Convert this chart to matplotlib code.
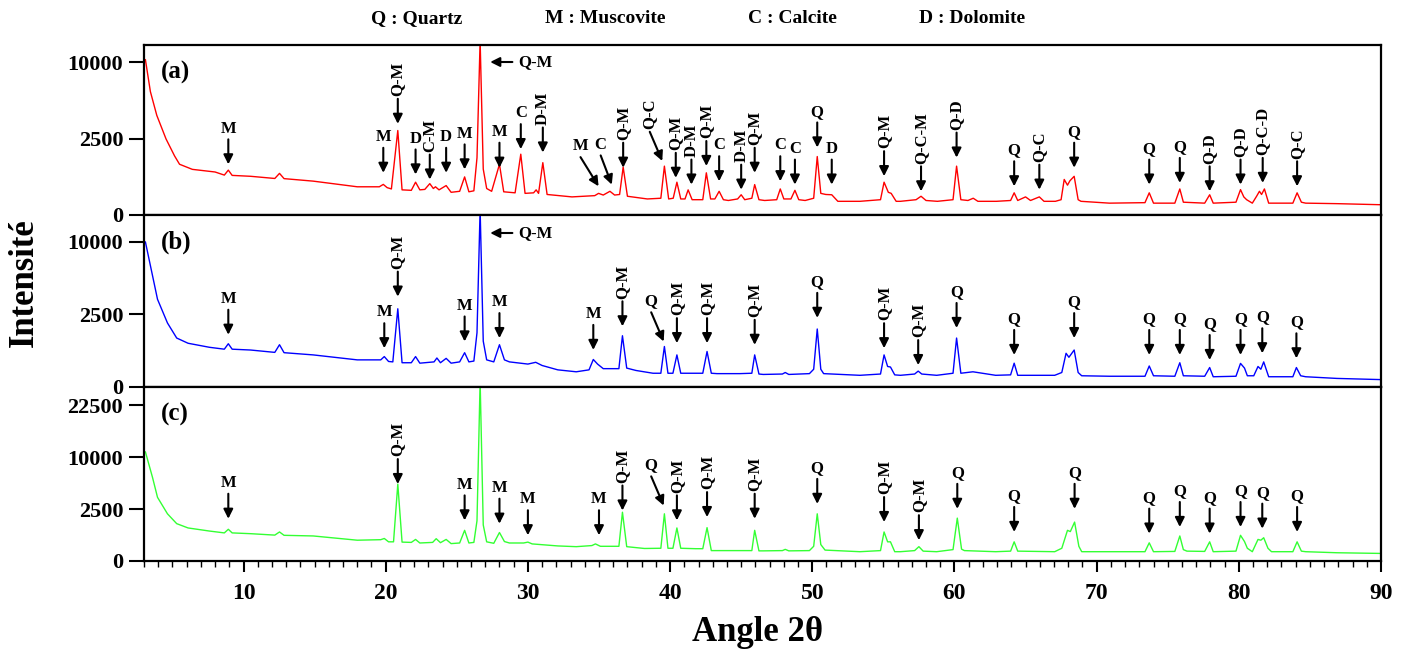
import numpy as np
import matplotlib
matplotlib.use('Agg')
import matplotlib.pyplot as plt
from matplotlib.ticker import MultipleLocator, NullLocator

plt.rcParams['font.family'] = ['Liberation Serif', 'DejaVu Serif']
plt.rcParams['font.weight'] = 'bold'

# ---- diffractogram (a) ----
a_x = [3.1, 3.45, 3.9, 4.55, 5.15, 5.5, 6.4, 8.0, 8.65, 8.93, 9.2, 10.5, 12.2, 12.53, 12.85, 14.9, 18.0,
       19.55, 19.83, 20.1, 20.4, 20.85, 21.15, 21.8, 22.1, 22.4, 22.75, 23.1, 23.35, 23.5, 23.75, 24.25,
       24.6, 25.2, 25.55, 25.85, 26.2, 26.42, 26.64, 26.86, 27.1, 27.45, 28.0, 28.3, 29.1, 29.5, 29.8,
       30.4, 30.58, 30.75, 31.05, 31.35, 33.1, 34.7, 34.97, 35.3, 35.77, 36.1, 36.45, 36.7, 37.0, 38.4,
       39.35, 39.6, 39.9, 40.22, 40.48, 40.75, 41.05, 41.27, 41.55, 42.3, 42.55, 42.85, 43.15, 43.45,
       43.75, 44.1, 44.75, 45.0, 45.25, 45.75, 45.95, 46.25, 46.65, 47.5, 47.75, 48.0, 48.5, 48.78, 49.05,
       49.5, 50.1, 50.35, 50.6, 50.95, 51.37, 51.8, 53.35, 54.8, 55.05, 55.35, 55.55, 55.9, 56.2, 57.3,
       57.65, 58.0, 58.8, 59.9, 60.15, 60.45, 60.95, 61.32, 61.65, 62.95, 63.95, 64.2, 64.45, 65.0, 65.35,
       65.97, 66.3, 67.1, 67.5, 67.72, 67.95, 68.12, 68.42, 68.7, 68.9, 70.9, 73.4, 73.7, 74.0, 75.5,
       75.85, 76.1, 77.6, 77.95, 78.2, 79.8, 80.12, 80.35, 80.55, 80.95, 81.25, 81.45, 81.6, 81.8, 82.1,
       83.8, 84.1, 84.4, 84.7, 86.9, 90.0]
a_y = [10300, 6500, 4240, 2470, 1490, 1100, 890, 790, 680, 860, 670, 640, 570, 740, 565, 490, 340,
       340, 400, 320, 290, 3050, 270, 260, 460, 270, 280, 420, 300, 340, 270, 370,
       220, 240, 620, 230, 250, 1400, 13000, 900, 300, 240, 1100, 230, 210, 1580, 200,
       210, 270, 200, 1170, 180, 140, 160, 200, 170, 240, 170, 180, 980, 150, 110,
       120, 1020, 110, 120, 460, 110, 110, 270, 100, 100, 760, 110, 110, 240,
       100, 90, 110, 175, 100, 120, 395, 100, 90, 100, 290, 110, 110, 260, 100,
       90, 120, 1460, 200, 180, 175, 80, 80, 100, 460, 220, 200, 80, 80, 100,
       150, 90, 80, 100, 1020, 100, 90, 120, 80, 80, 90, 210, 90, 140, 90,
       140, 80, 80, 100, 540, 380, 500, 640, 100, 80, 60, 65, 210, 60, 60,
       290, 70, 60, 175, 60, 70, 275, 140, 100, 60, 150, 240, 180, 290, 60,
       60, 210, 70, 60, 55, 45]

# ---- diffractogram (b) ----
b_x = [3.1, 3.6, 3.95, 4.65, 5.3, 6.1, 7.6, 8.65, 8.93, 9.2, 10.5, 12.2, 12.53, 12.85, 14.9, 18.0,
       19.65, 19.9, 20.2, 20.5, 20.85, 21.15, 21.8, 22.1, 22.4, 23.4, 23.6, 23.85, 24.25, 24.6, 25.2,
       25.55, 25.85, 26.2, 26.42, 26.64, 26.86, 27.1, 27.6, 28.0, 28.35, 28.7, 30.0, 30.55, 31.0, 32.1,
       33.4, 34.3, 34.6, 34.9, 35.3, 36.4, 36.65, 36.95, 37.6, 38.8, 39.35, 39.6, 39.85, 40.2, 40.48,
       40.75, 41.8, 42.3, 42.6, 42.9, 43.3, 44.9, 45.75, 45.95, 46.25, 46.55, 47.9, 48.1, 48.35, 49.8,
       50.1, 50.35, 50.6, 50.8, 53.35, 54.8, 55.05, 55.3, 55.5, 55.8, 56.2, 57.2, 57.45, 57.7, 58.75,
       59.9, 60.15, 60.45, 61.3, 62.9, 63.95, 64.2, 64.45, 67.05, 67.55, 67.85, 68.05, 68.42, 68.7,
       68.95, 70.9, 73.4, 73.7, 74.0, 75.5, 75.85, 76.1, 77.6, 77.95, 78.2, 79.8, 80.12, 80.4, 80.6,
       81.05, 81.35, 81.55, 81.75, 82.1, 83.8, 84.05, 84.35, 84.7, 86.9, 90.0]
b_y = [10000, 5900, 3660, 1950, 1140, 910, 750, 680, 890, 680, 650, 570, 850, 560, 490, 350,
       350, 440, 310, 300, 2910, 280, 280, 440, 270, 300, 400, 280, 390, 270, 300,
       560, 300, 320, 1400, 15000, 1000, 350, 300, 850, 350, 300, 250, 290, 220, 140,
       110, 140, 360, 250, 160, 160, 1250, 170, 130, 90, 90, 780, 90, 90, 490,
       90, 90, 90, 600, 90, 85, 85, 90, 490, 80, 75, 80, 100, 75, 85,
       150, 1600, 150, 85, 65, 80, 490, 200, 190, 70, 65, 80, 120, 80, 65,
       90, 1140, 90, 110, 65, 70, 270, 65, 65, 100, 540, 420, 650, 100,
       60, 55, 55, 210, 60, 55, 280, 60, 55, 180, 50, 55, 265, 170, 60,
       60, 200, 150, 300, 50, 50, 180, 60, 50, 35, 26]

# ---- diffractogram (c) ----
c_x = [3.1, 3.6, 3.95, 4.65, 5.3, 6.1, 7.6, 8.65, 8.93, 9.2, 10.5, 12.2, 12.53, 12.85, 14.9, 18.0,
       19.65, 19.9, 20.2, 20.55, 20.85, 21.15, 21.8, 22.1, 22.4, 23.3, 23.55, 23.85, 24.25, 24.6, 25.2,
       25.55, 25.85, 26.2, 26.42, 26.64, 26.86, 27.1, 27.6, 28.0, 28.35, 28.7, 29.7, 30.0, 30.3, 32.1,
       33.4, 34.5, 34.75, 35.1, 36.4, 36.65, 36.95, 38.2, 39.35, 39.6, 39.85, 40.2, 40.48, 40.75, 41.8,
       42.3, 42.6, 42.9, 43.3, 44.9, 45.75, 45.95, 46.25, 46.55, 47.9, 48.1, 48.35, 49.8, 50.1, 50.35,
       50.6, 50.9, 53.35, 54.8, 55.05, 55.3, 55.5, 55.8, 56.2, 57.2, 57.5, 57.8, 58.75, 59.9, 60.2,
       60.5, 60.7, 62.9, 63.95, 64.2, 64.45, 67.05, 67.55, 67.95, 68.15, 68.45, 68.75, 68.95, 70.9,
       73.4, 73.7, 74.0, 75.5, 75.85, 76.1, 76.35, 77.6, 77.95, 78.2, 79.8, 80.12, 80.4, 80.6, 80.95,
       81.35, 81.55, 81.75, 82.05, 82.3, 83.8, 84.1, 84.4, 84.7, 86.9, 90.0]
c_y = [11000, 6450, 3750, 2060, 1290, 1010, 830, 730, 930, 730, 690, 620, 780, 610, 580, 400,
       420, 470, 340, 340, 5470, 330, 320, 430, 300, 320, 460, 310, 430, 280, 300,
       870, 300, 320, 1500, 30000, 1200, 340, 290, 750, 350, 300, 300, 330, 270, 210,
       190, 220, 270, 200, 200, 2200, 190, 145, 150, 2060, 150, 150, 1010, 150, 140,
       140, 1030, 100, 100, 100, 100, 870, 95, 95, 100, 125, 95, 100, 200, 2060,
       250, 110, 80, 100, 780, 340, 340, 80, 80, 100, 190, 90, 80, 120, 1700,
       130, 100, 80, 90, 340, 90, 80, 150, 870, 800, 1400, 200, 80, 80,
       80, 305, 80, 85, 580, 120, 90, 85, 340, 80, 90, 610, 350, 150, 80,
       430, 400, 500, 150, 80, 80, 340, 90, 80, 63, 53]

# ---- peak markers: position, arrow tip intensity, phase ----
a_mx = [8.93, 19.83, 20.85, 22.1, 23.1, 24.25, 25.55, 28.0, 29.5, 31.05, 36.7, 40.4, 41.5, 42.55, 43.45,
        45.0, 45.95, 47.75, 48.78, 50.35, 51.37, 55.05, 57.65, 60.15, 64.2, 65.97, 68.42, 73.7, 75.85,
        77.95, 80.12, 81.68, 84.1]
a_mt = [1096, 761, 3552, 702, 537, 761, 888, 955, 1853, 1668, 955, 590, 395, 1025, 487,
        274, 761, 487, 395, 1949, 395, 644, 239, 1408, 352, 274, 955, 395, 440,
        239, 395, 440, 352]
a_ml = ['M', 'M', 'Q-M', 'D', 'C-M', 'D', 'M', 'M', 'C', 'D-M', 'Q-M', 'Q-M', 'D-M', 'Q-M', 'C',
        'D-M', 'Q-M', 'C', 'C', 'Q', 'D', 'Q-M', 'Q-C-M', 'Q-D', 'Q', 'Q-C', 'Q', 'Q', 'Q',
        'Q-D', 'Q-D', 'Q-C-D', 'Q-C']
a_dx = [34.97, 35.9, 39.45]
a_dt = [352, 395, 1248]
a_dl = ['M', 'C', 'Q-C']
a_dd = [-13, -8, -9]

b_mx = [8.93, 19.9, 20.85, 25.55, 28.0, 34.6, 36.65, 40.48, 42.6, 45.95, 50.35, 55.05, 57.45, 60.15,
        64.2, 68.42, 73.7, 75.85, 77.95, 80.12, 81.65, 84.05]
b_mt = [1299, 715, 3884, 986, 1137, 654, 1752, 914, 914, 845, 2273, 715, 228, 1656,
        488, 1137, 488, 488, 346, 488, 541, 391]
b_ml = ['M', 'M', 'Q-M', 'M', 'M', 'M', 'Q-M', 'Q-M', 'Q-M', 'Q-M', 'Q', 'Q-M', 'Q-M', 'Q',
        'Q', 'Q', 'Q', 'Q', 'Q', 'Q', 'Q', 'Q']
b_dx = [39.55]
b_dt = [986]
b_dl = ['Q']
b_dd = [-9]

c_mx = [8.93, 20.85, 25.55, 28.0, 30.0, 35.0, 36.65, 40.48, 42.6, 45.95, 50.35, 55.05, 57.5, 60.2,
        64.2, 68.45, 73.7, 75.85, 77.95, 80.12, 81.65, 84.1]
c_mt = [1651, 5471, 1525, 1287, 613, 613, 2359, 1525, 1783, 1651, 3016, 1403, 400, 2516,
        780, 2516, 694, 1069, 694, 1069, 968, 780]
c_ml = ['M', 'Q-M', 'M', 'M', 'M', 'M', 'Q-M', 'Q-M', 'Q-M', 'Q-M', 'Q', 'Q-M', 'Q-M', 'Q',
        'Q', 'Q', 'Q', 'Q', 'Q', 'Q', 'Q', 'Q']
c_dx = [39.55]
c_dt = [2845]
c_dl = ['Q']
c_dd = [-9]

legend_txt = ['Q : Quartz', 'M : Muscovite', 'C : Calcite', 'D : Dolomite']
legend_pos = [0.295, 0.428, 0.561, 0.688]


def fwd(v):
    return np.sqrt(np.clip(v, 0, None))


def inv(v):
    return np.square(v)


def marks(ax, xs, tips, labs, dxs=None):
    for i, (x, t, lab) in enumerate(zip(xs, tips, labs)):
        dx = 0 if dxs is None else dxs[i]
        dy = 18 if dxs is None else 21
        ax.annotate('', xy=(x, t), xytext=(dx, dy), textcoords='offset points',
                    arrowprops=dict(arrowstyle='-|>', color='k', lw=1.5, mutation_scale=14,
                                    shrinkA=0, shrinkB=0))
        rot = 90 if len(lab) > 1 else 0
        ax.annotate(lab, xy=(x, t), xytext=(dx, dy + 2), textcoords='offset points',
                    ha='center', va='bottom', rotation=rot, fontsize=12, fontweight='bold')


fig = plt.figure(figsize=(14.13, 6.55), dpi=100)
left, width = 144 / 1413, (1381 - 144) / 1413
boxes = [(215, 170), (387, 172), (561, 174)]
series = [(a_x, a_y, '#ff0000', 12346, [0, 2500, 10000], '(a)'),
          (b_x, b_y, '#0000ff', 14070, [0, 2500, 10000], '(b)'),
          (c_x, c_y, '#33ff33', 28000, [0, 2500, 10000, 22500], '(c)')]
axes = []
for (bot, h), (x, y, col, top, yt, tag) in zip(boxes, series):
    ax = fig.add_axes([left, 1 - bot / 655, width, h / 655])
    ax.plot(x, y, color=col, linewidth=1.0)
    ax.set_yscale('function', functions=(fwd, inv))
    ax.set_ylim(0, top)
    ax.set_xlim(3.0, 90)
    ax.set_yticks(yt)
    ax.set_yticklabels([str(v) for v in yt], fontsize=16, fontweight='bold')
    ax.yaxis.set_minor_locator(NullLocator())
    ax.tick_params(axis='y', direction='out', length=11, width=1.5, pad=4)
    for s in ax.spines.values():
        s.set_linewidth(1.6)
    ax.text(0.014, 0.84, tag, transform=ax.transAxes, fontsize=18, fontweight='bold',
            ha='left', va='center')
    axes.append(ax)

ax_a, ax_b, ax_c = axes
for ax in (ax_a, ax_b):
    ax.tick_params(axis='x', which='both', bottom=False, labelbottom=False)
ax_c.xaxis.set_major_locator(MultipleLocator(10))
ax_c.xaxis.set_minor_locator(MultipleLocator(1))
ax_c.tick_params(axis='x', which='major', direction='out', length=8, width=1.5, labelsize=17, pad=8)
ax_c.tick_params(axis='x', which='minor', direction='out', length=4, width=1.0)
for lab in ax_c.get_xticklabels():
    lab.set_fontweight('bold')

marks(ax_a, a_mx, a_mt, a_ml)
marks(ax_a, a_dx, a_dt, a_dl, a_dd)
marks(ax_b, b_mx, b_mt, b_ml)
marks(ax_b, b_dx, b_dt, b_dl, b_dd)
marks(ax_c, c_mx, c_mt, c_ml)
marks(ax_c, c_dx, c_dt, c_dl, c_dd)

# horizontal arrow to the main quartz reflection
for ax, yy in ((ax_a, 10000), (ax_b, 11280)):
    ax.annotate('Q-M', xy=(27.35, yy), xytext=(29.3, yy), ha='left', va='center',
                fontsize=12, fontweight='bold',
                arrowprops=dict(arrowstyle='-|>', color='k', lw=1.5, mutation_scale=14,
                                shrinkA=2, shrinkB=0))

for t, xp in zip(legend_txt, legend_pos):
    fig.text(xp, 0.971, t, ha='center', va='center', fontsize=14, fontweight='bold')

fig.text(0.017, 0.568, 'Intensité', rotation=90, ha='center', va='center',
         fontsize=25, fontweight='bold')
fig.text(0.536, 0.035, 'Angle 2θ', ha='center', va='center', fontsize=25, fontweight='bold')

fig.savefig('out.png', dpi=100)
